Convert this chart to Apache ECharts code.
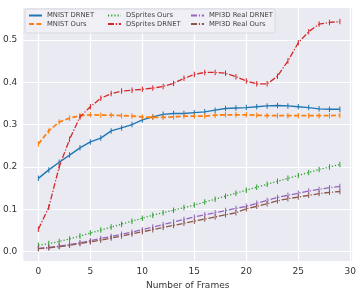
<!DOCTYPE html>
<html><head><meta charset="utf-8">
<script src="https://cdn.jsdelivr.net/npm/echarts@6/dist/echarts.min.js"></script>
<style>html,body{margin:0;padding:0;background:#fff}#c{width:359px;height:297px}</style>
</head><body><div id="c"></div>
<script>
const frames = Array.from({length:30},(_,i)=>i);
const xTicks = [0,5,10,15,20,25,30];
const yTicks = [0,0.1,0.2,0.3,0.4,0.5];
const names = ['MNIST DRNET','MNIST Ours','DSprites Ours','DSprites DRNET','MPI3D Real DRNET','MPI3D Real Ours'];
const mnistDrnet = [0.173,0.193,0.211,0.228,0.245,0.259,0.268,0.285,0.292,0.300,0.311,0.318,0.324,0.326,0.326,0.328,0.330,0.334,0.338,0.339,0.340,0.342,0.344,0.345,0.344,0.342,0.340,0.337,0.336,0.336];
const mnistOurs = [0.254,0.285,0.306,0.315,0.321,0.323,0.322,0.322,0.321,0.320,0.318,0.317,0.317,0.318,0.320,0.320,0.320,0.322,0.323,0.323,0.323,0.322,0.321,0.321,0.321,0.321,0.321,0.321,0.321,0.322];
const dspritesOurs = [0.015,0.019,0.024,0.030,0.037,0.044,0.051,0.058,0.065,0.072,0.079,0.086,0.092,0.098,0.104,0.110,0.117,0.124,0.131,0.138,0.145,0.152,0.159,0.166,0.173,0.180,0.187,0.194,0.200,0.206];
const dspritesDrnet = [0.053,0.105,0.200,0.265,0.318,0.342,0.362,0.373,0.379,0.381,0.383,0.386,0.390,0.397,0.409,0.418,0.423,0.423,0.421,0.413,0.403,0.396,0.396,0.414,0.450,0.493,0.519,0.537,0.541,0.543];
const mpiDrnet = [0.008,0.010,0.013,0.017,0.021,0.026,0.031,0.036,0.041,0.046,0.052,0.058,0.064,0.070,0.076,0.082,0.087,0.092,0.097,0.102,0.107,0.114,0.121,0.128,0.133,0.138,0.143,0.147,0.151,0.154];
const mpiOurs = [0.007,0.009,0.012,0.015,0.019,0.023,0.027,0.032,0.037,0.042,0.047,0.052,0.057,0.062,0.067,0.072,0.077,0.082,0.087,0.092,0.101,0.107,0.113,0.120,0.125,0.129,0.133,0.137,0.140,0.142];

const seriesData = [mnistDrnet,mnistOurs,dspritesOurs,dspritesDrnet,mpiDrnet,mpiOurs];
const colors = ['#1f77b4','#ff7f0e','#2ca02c','#d62728','#9467bd','#8c564b'];
const dashes = ['solid',[5,2.4],[1.2,2],[6,1.8,1.2,1.8],[6,1.8,1.2,1.8],[6,1.8,1.2,1.8]];
const widths = [1.4,1.8,1.3,1.3,1.3,1.3];

const chart = echarts.init(document.getElementById('c'),null,{renderer:'canvas'});
const series = seriesData.map((d,i)=>({
  name:names[i], type:'line', data:frames.map((f,j)=>[f,d[j]]),
  symbol:'rect', symbolSize:[1,5.5], showSymbol:true,
  itemStyle:{color:colors[i]},
  lineStyle:{color:colors[i],width:widths[i],type:dashes[i]},
  animation:false, z:2+i
}));
const legendBase = {orient:'vertical', itemWidth:13, itemHeight:6, itemGap:1.5,
  itemStyle:{opacity:0},
  textStyle:{fontSize:6.8,color:'#444',fontFamily:'DejaVu Sans',padding:[0,0,0,0]}, padding:0};
chart.setOption({
  animation:false,
  textStyle:{fontFamily:'DejaVu Sans'},
  grid:{left:22.7,right:0,top:8,bottom:36,show:true,backgroundColor:'#eaeaf2',borderWidth:0},
  xAxis:{type:'value',min:-1.45,max:30.18,
    axisLine:{show:false},axisTick:{show:false,customValues:xTicks},
    axisLabel:{customValues:xTicks,fontSize:9,color:'#333',margin:6,formatter:v=>String(Math.round(v))},
    splitLine:{show:true,lineStyle:{color:'#fff',width:1.2}},
    name:'Number of Frames',nameLocation:'middle',nameGap:20,nameTextStyle:{fontSize:9,color:'#333'}},
  yAxis:{type:'value',min:-0.022,max:0.575,
    axisLine:{show:false},axisTick:{show:false,customValues:yTicks},
    axisLabel:{customValues:yTicks,fontSize:9,color:'#333',margin:6,formatter:v=>v.toFixed(1)},
    splitLine:{show:true,lineStyle:{color:'#fff',width:1.2}}},
  graphic:[{type:'rect',shape:{x:25,y:9,width:250,height:24,r:2},
    style:{fill:'rgba(240,240,246,0.85)',stroke:'#d3d3da',lineWidth:0.8},z:50}],
  legend:[
    Object.assign({},legendBase,{left:28,top:12,data:[names[0],names[1]],z:60}),
    Object.assign({},legendBase,{left:107,top:12,data:[names[2],names[3]],z:60}),
    Object.assign({},legendBase,{left:190,top:12,data:[names[4],names[5]],z:60})
  ],
  series:series
});
</script></body></html>
